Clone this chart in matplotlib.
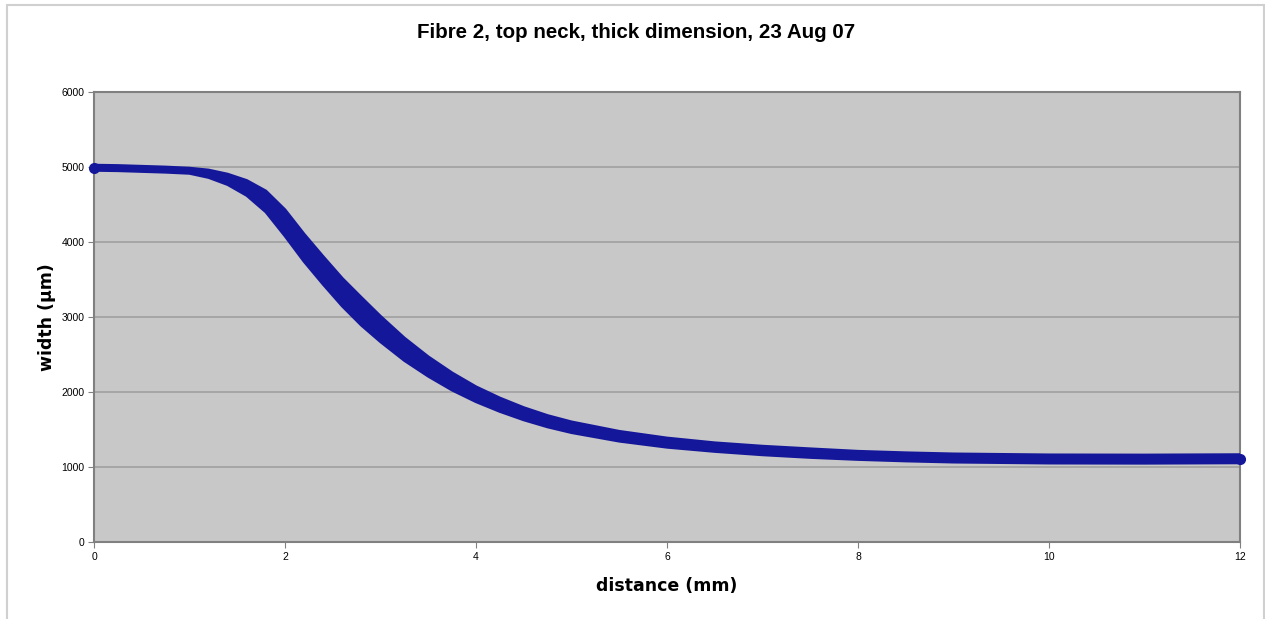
import numpy as np
import matplotlib.pyplot as plt
from matplotlib.patches import Rectangle

# distance along the fibre (mm) and the two edges of the measured band (um)
distance = [0, 0.25, 0.5, 0.75, 1.0, 1.2, 1.4, 1.6, 1.8, 2.0, 2.2, 2.4, 2.6, 2.8, 3.0,
            3.25, 3.5, 3.75, 4.0, 4.25, 4.5, 4.75, 5.0, 5.5, 6.0, 6.5, 7.0, 7.5, 8.0,
            8.5, 9.0, 10.0, 11.0, 12.0]
width_upper = [5025, 5020, 5010, 5000, 4985, 4960, 4905, 4820, 4680, 4430, 4105, 3805, 3515,
               3260, 3010, 2720, 2470, 2255, 2070, 1920, 1792, 1686, 1602, 1476, 1387, 1323,
               1278, 1243, 1210, 1190, 1175, 1162, 1160, 1165]
width_lower = [4955, 4950, 4940, 4930, 4915, 4860, 4765, 4620, 4400, 4080, 3740, 3435, 3145,
               2890, 2670, 2420, 2210, 2025, 1870, 1740, 1628, 1534, 1458, 1344, 1263, 1207,
               1162, 1127, 1100, 1080, 1065, 1052, 1050, 1055]

xticks = [0, 2, 4, 6, 8, 10, 12]
yticks = [0, 1000, 2000, 3000, 4000, 5000, 6000]

blue = '#15179b'

fig = plt.figure(figsize=(12.65, 6.19), dpi=100)
ax = fig.add_axes([94/1265, 77/619, 1146/1265, 450/619])
ax.set_facecolor('#c8c8c8')

x = np.array(distance)
up = np.array(width_upper)
lo = np.array(width_lower)
ax.fill_between(x, lo, up, color=blue, lw=0, zorder=3)
ax.plot(x, up, color=blue, lw=2, solid_capstyle='round', solid_joinstyle='round', zorder=3)
ax.plot(x, lo, color=blue, lw=2, solid_capstyle='round', solid_joinstyle='round', zorder=3)
ax.plot(x[[0, -1]], (up[[0, -1]] + lo[[0, -1]]) / 2, 'o', color=blue, ms=7, zorder=3,
        clip_on=False)

ax.set_xlim(0, 12)
ax.set_ylim(0, 6000)
ax.set_xticks(xticks)
ax.set_yticks(yticks)
ax.yaxis.grid(True, color='#a0a0a0', lw=1.2)
ax.set_axisbelow(True)
for s in ax.spines.values():
    s.set_color('#808080')
    s.set_linewidth(1.5)
ax.tick_params(axis='both', length=4, color='#808080', labelsize=7.5,
               labelcolor='black', pad=3)
for lab in ax.get_xticklabels() + ax.get_yticklabels():
    lab.set_family('Liberation Sans')

ax.set_xlabel('distance (mm)', fontsize=12.5, fontweight='bold', family='DejaVu Sans', labelpad=11)
ax.set_ylabel('width (µm)', fontsize=12.5, fontweight='bold', family='DejaVu Sans', labelpad=4)

fig.text(636/1265, 1 - 33/619, 'Fibre 2, top neck, thick dimension, 23 Aug 07',
         ha='center', va='center', fontsize=14.8, fontweight='bold', family='Liberation Sans')

fig.patches.append(Rectangle((7/1265, -0.05), 1257/1265, 1.05 - 4.5/619, transform=fig.transFigure,
                             fill=False, edgecolor='#d0d0d0', lw=1.5))

fig.savefig('out.png', dpi=100)
